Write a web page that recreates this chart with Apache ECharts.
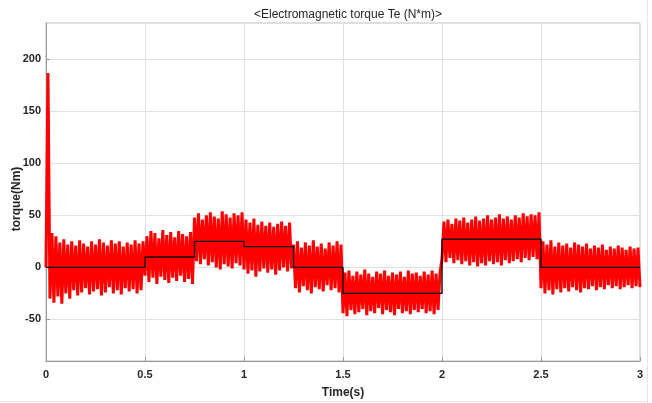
<!DOCTYPE html>
<html>
<head>
<meta charset="utf-8">
<script src="https://cdn.jsdelivr.net/npm/echarts@6/dist/echarts.min.js"></script>
<style>
html,body{margin:0;padding:0;background:#fff;}
#c{width:652px;height:403px;}
</style>
</head>
<body>
<div id="c"></div>
<script>
// Title and axis texts
const titleText = '<Electromagnetic torque Te (N*m)>';
const xName = 'Time(s)';
const yName = 'torque(Nm)';
const xTicks = [0, 0.5, 1, 1.5, 2, 2.5, 3];
const yTicks = [-50, 0, 50, 100, 150, 200];

// Start of the torque trace (inrush spike)
const startT = [0];
const startV = [0];

// Upper tips of the torque ripple, sampled at t = 0.01 + 0.02k
const hiT0 = 0.01, hiStep = 0.02;
const hi = [
  187, 33, 30, 24, 27, 22, 25, 21, 26, 23, 20, 25, 22, 27, 24, 21, 26, 23, 25, 20, 24, 22, 26, 23, 25,
  30, 35, 33, 28, 36, 31, 34, 29, 35, 32, 30, 34,
  48, 52, 46, 50, 53, 49, 47, 54, 51, 48, 52, 50, 53,
  46, 43, 47, 41, 44, 40, 43, 39, 42, 44, 40, 43,
  22, 25, 19, 24, 21, 26, 20, 23, 18, 24, 21, 25, 22,
  -5, -3, -8, -4, -7, -2, -6, -9, -4, -6, -3, -8, -5, -7, -4, -9, -3, -6, -5, -8, -4, -7, -3, -6, -5,
  44, 46, 42, 47, 45, 48, 43, 46, 49, 45, 47, 50, 46, 48, 51, 47, 49, 46, 50, 48, 52, 49, 51, 50, 53,
  25, 22, 26, 20, 24, 21, 23, 19, 24, 22, 20, 23, 18, 21, 19, 22, 17, 20, 18, 21, 19, 17, 20, 18, 19
];
// Lower tips of the torque ripple, sampled at t = 0.02 + 0.02k
const loT0 = 0.02, loStep = 0.02;
const lo = [
  -30, -34, -28, -35, -25, -30, -22, -27, -24, -20, -26, -23, -21, -27, -24, -19, -25, -22, -26, -20, -23, -21, -25, -22,
  -8, -14, -10, -16, -9, -12, -15, -10, -13, -8, -14, -11, -16,
  6, 3, 8, 2, 5, 0, -2, 3, 1, -1, 4, 2,
  -2, -6, -3, -9, -4, -1, -5, -2, -7, -3, 0, -4, -1,
  -20, -24, -18, -22, -25, -19, -21, -23, -17, -22, -20, -24,
  -44, -47, -41, -45, -43, -40, -46, -42, -44, -39, -45, -41, -43, -46, -40, -44, -42, -45, -41, -43, -40, -44, -42, -45, -41,
  8, 5, 9, 4, 7, 3, 6, 2, 5, 1, 4, 2, 6, 3, 5, 2, 7, 4, 6, 8, 5, 9, 7, 10, 8,
  -20, -25, -22, -26, -21, -24, -20, -23, -19, -22, -24, -20, -21, -18, -22, -19, -21, -17, -20, -18, -21, -19, -17, -20, -18, -19
];

// Reference torque (step)
const refT = [0, 0.5, 0.75, 1, 1.25, 1.5, 2, 2.5, 3];
const refV = [0, 10, 25, 20, 0, -25, 27, 0, 0];

// Build the trace: alternate upper / lower tips
const trace = [];
for (let i = 0; i < startT.length; i++) trace.push([startT[i], startV[i]]);
for (let k = 0; k < hi.length; k++) {
  trace.push([+(hiT0 + hiStep * k).toFixed(3), hi[k]]);
  if (k < lo.length) trace.push([+(loT0 + loStep * k).toFixed(3), lo[k]]);
}
const ref = refT.map((t, i) => [t, refV[i]]);

const chart = echarts.init(document.getElementById('c'), null, {renderer: 'canvas'});
const labelFont = {fontFamily: 'Liberation Sans, Arial, sans-serif', fontWeight: 'bold', fontSize: 11, color: '#262626'};

chart.setOption({
  animation: false,
  backgroundColor: '#ffffff',
  title: {
    text: titleText, left: 343, top: 4, textAlign: 'center',
    textStyle: {fontFamily: 'Liberation Sans, Arial, sans-serif', fontWeight: 'normal', fontSize: 12, color: '#262626'}
  },
  grid: {left: 46, right: 12, top: 23, bottom: 42, containLabel: false, outerBoundsMode: 'none', show: true, borderColor: '#bdbdbd', borderWidth: 1, backgroundColor: 'transparent'},
  xAxis: {
    type: 'value', min: 0, max: 3, interval: 0.5,
    name: xName, nameLocation: 'middle', nameGap: 26, nameMoveOverlap: false,
    nameTextStyle: Object.assign({}, labelFont, {fontSize: 12}),
    axisLine: {show: true, onZero: false, lineStyle: {color: '#9a9a9a', width: 1}},
    axisTick: {show: true, inside: true, length: 4, lineStyle: {color: '#9a9a9a'}},
    axisLabel: Object.assign({}, labelFont, {margin: 8, formatter: v => String(v)}),
    splitLine: {show: true, lineStyle: {color: '#e1e1e1', width: 1}}
  },
  yAxis: {
    type: 'value', min: -90, max: 235,
    name: yName, nameLocation: 'middle', nameGap: 23, nameRotate: 90, nameMoveOverlap: false,
    nameTextStyle: Object.assign({}, labelFont, {fontSize: 12, padding: [0, 14, 0, 0]}),
    axisLine: {show: true, lineStyle: {color: '#9a9a9a', width: 1}},
    axisTick: {show: true, inside: true, length: 4, customValues: yTicks, lineStyle: {color: '#9a9a9a'}},
    axisLabel: Object.assign({}, labelFont, {margin: 5, customValues: yTicks}),
    splitLine: {show: true, lineStyle: {color: '#e1e1e1', width: 1}}
  },
  series: [
    {
      type: 'line', data: trace, symbol: 'none', silent: true, sampling: null,
      lineStyle: {color: '#ff0000', width: 3, join: 'miter', miterLimit: 2},
      z: 2
    },
    {
      type: 'line', data: ref, step: 'end', symbol: 'none', silent: true,
      lineStyle: {color: '#1a0000', width: 1.4},
      z: 3
    }
  ],
  graphic: [
    {type: 'line', shape: {x1: 647.5, y1: 0, x2: 647.5, y2: 403}, style: {stroke: '#e6e6e6', lineWidth: 1}, silent: true},
    {type: 'line', shape: {x1: 0, y1: 401.5, x2: 648, y2: 401.5}, style: {stroke: '#e6e6e6', lineWidth: 1}, silent: true}
  ]
});
</script>
</body>
</html>
